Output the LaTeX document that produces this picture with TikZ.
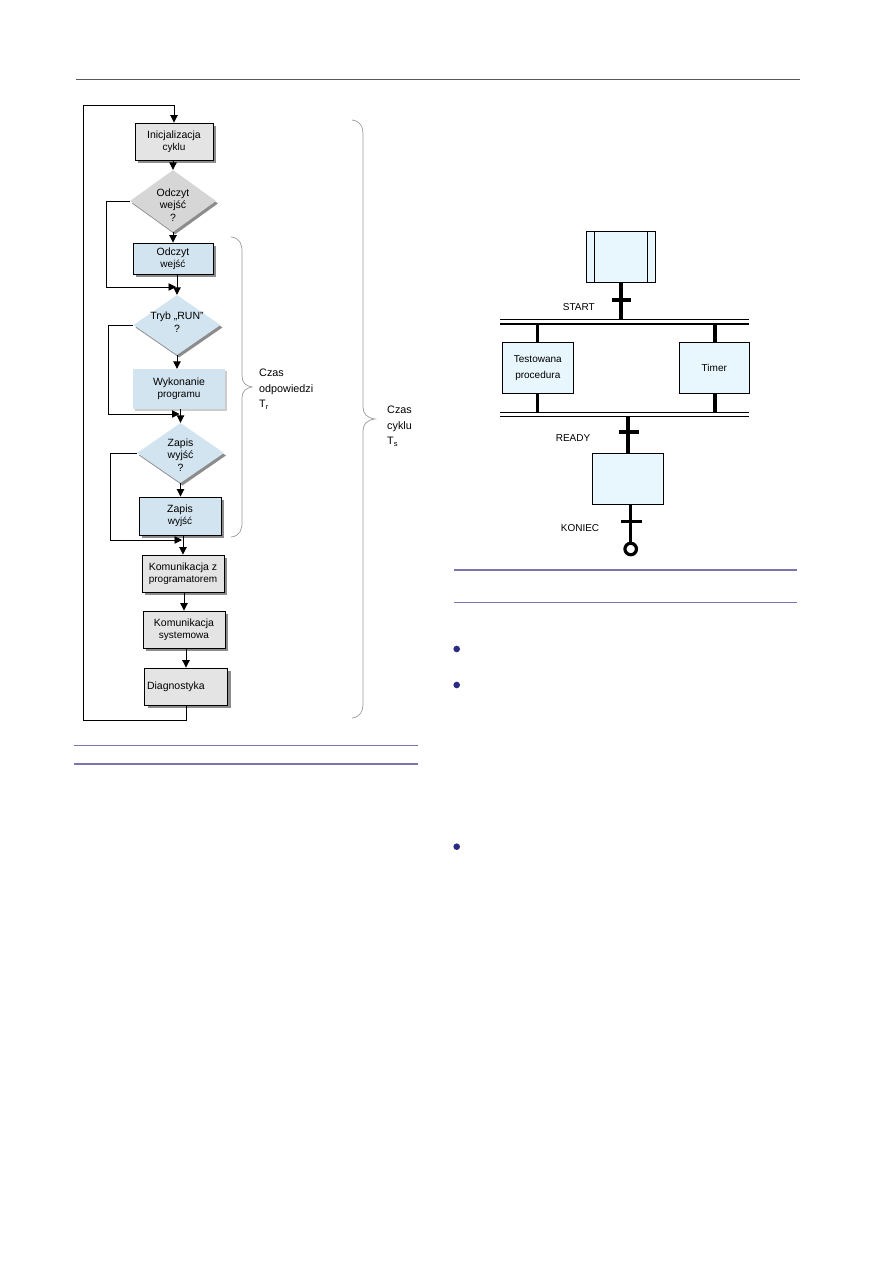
\documentclass[tikz,border=0pt]{standalone}
\usepackage{fontspec}
\setmainfont{Liberation Sans}
\usetikzlibrary{shapes.geometric,arrows.meta,shadows}
\definecolor{boxgray}{HTML}{E4E4E4}
\definecolor{diagray}{HTML}{D6D6D6}
\definecolor{boxblue}{HTML}{D2E4EF}
\definecolor{sfcblue}{HTML}{E8F6FD}
\definecolor{shad}{HTML}{8C8C8C}
\definecolor{purp}{HTML}{7C74B0}
\definecolor{navy}{HTML}{2B2B86}
\definecolor{bracegray}{HTML}{9A9A9A}
\tikzset{
  every node/.style={font=\fontsize{10}{12}\selectfont, align=center, inner sep=0pt},
  fbox/.style={rectangle, draw=black, line width=0.9pt,
     drop shadow={shadow xshift=3pt, shadow yshift=-3pt, fill=shad, opacity=1}},
  graybox/.style={fbox, fill=boxgray},
  bluebox/.style={fbox, fill=boxblue},
  dia/.style={diamond, fill=#1, draw=none,
     drop shadow={shadow xshift=2pt, shadow yshift=-2.5pt, fill=shad, opacity=1}},
  conn/.style={line width=0.9pt, draw=black},
  arr/.style={conn, -{Triangle[length=7.5pt,width=7.5pt]}},
  brc/.style={draw=bracegray, line width=0.7pt},
  sfcbox/.style={rectangle, draw=black, line width=0.9pt, fill=sfcblue},
  thk/.style={line width=3.3pt, draw=black},
  bar/.style={line width=1.2pt, draw=black},
  lbl/.style={font=\fontsize{10.8}{15.5}\selectfont, align=left, anchor=north west},
}
\begin{document}
\begin{tikzpicture}[x=1pt,y=-1pt]
\useasboundingbox (0,0) rectangle (893,1263);
% top rule
\draw[draw=black!65, line width=0.9pt] (76,79) -- (800,79);

% ---------- flowchart ----------
\node[graybox, minimum width=78pt, minimum height=37pt] (init) at (174,141.5)
  {\fontsize{10.5}{11}\selectfont Inicjalizacja\\cyklu};
\node[dia=diagray, minimum width=86pt, minimum height=62pt] (d1) at (173,201) {};
\node[font=\fontsize{10.5}{12.5}\selectfont] (d1t) at (173,205) {Odczyt\\wejść\\?};
\node[bluebox, minimum width=80pt, minimum height=31pt] (odc) at (173,258.5)
  {\fontsize{10.5}{16.5}\selectfont Odczyt\\wejść};
\node[dia=boxblue, minimum width=87pt, minimum height=60pt] (d2) at (177,325) {};
\node[font=\fontsize{10.5}{12.5}\selectfont] (d2t) at (177,322) {Tryb „RUN”\\?};
\node[rectangle, fill=boxblue, minimum width=92pt, minimum height=40pt,
  drop shadow={shadow xshift=1.5pt, shadow yshift=-1.5pt, fill=black!20, opacity=1}] (wyk) at (179,389)
  {\fontsize{10.5}{16}\selectfont Wykonanie\\programu};
\node[dia=boxblue, minimum width=87pt, minimum height=60pt] (d3) at (180.5,453) {};
\node[font=\fontsize{10.5}{12.5}\selectfont] (d3t) at (180.5,455) {Zapis\\wyjść\\?};
\node[bluebox, minimum width=82pt, minimum height=38pt] (zap) at (180,516)
  {\fontsize{10.5}{15}\selectfont Zapis\\wyjść};
\node[graybox, minimum width=82pt, minimum height=37pt] (kom1) at (183,573.5)
  {\fontsize{10.5}{13.5}\selectfont Komunikacja z\\programatorem};
\node[graybox, minimum width=82pt, minimum height=37pt] (kom2) at (184,629.5)
  {\fontsize{10.5}{13.5}\selectfont Komunikacja\\systemowa};
\node[graybox, minimum width=83pt, minimum height=37pt, text width=78pt, align=left,
  font=\fontsize{10.5}{12}\selectfont] (diag) at (186,686.5) {Diagnostyka};

% junctions
\coordinate (j1) at (177,287);
\coordinate (j2) at (180.5,414);
\coordinate (j3) at (183,540);
\coordinate (lt) at (83,105);
\coordinate (lb) at (83,720);

% connectors
\draw[arr] (init.south -| d1.north) -- (d1.north);
\draw[arr] (d1.south) -- (d1.south |- odc.north);
\draw[arr] (odc.south -| d2.north) -- (d2.north);
\draw[arr] (d2.south) -- (d2.south |- wyk.north);
\draw[arr] (wyk.south -| d3.north) -- (d3.north);
\draw[arr] (d3.south) -- (d3.south |- zap.north);
\draw[arr] (zap.south -| kom1.north) -- (kom1.north);
\draw[arr] (kom1.south -| kom2.north) -- (kom2.north);
\draw[arr] (kom2.south -| diag.north) -- (diag.north);
\draw[arr] (d1.west) -- ++(-23,0) |- ([xshift=-1pt]j1);
\draw[arr] (d2.west) -- ++(-25,0) |- ([xshift=-1pt]j2);
\draw[arr] (d3.west) -- ++(-26,0) |- ([xshift=-1pt]j3);
\draw[conn] (diag.south) -- (diag.south |- lb) -- (lb) -- (lt) -- (lt -| init.north);
\draw[arr] (lt -| init.north) -- (init.north);

% braces
\draw[brc] (231,237) .. controls (240,238) and (242,244) .. (242,252) -- (242,376)
  .. controls (242,383) and (246,386) .. (252,387)
  .. controls (246,388) and (242,391) .. (242,398) -- (242,522)
  .. controls (242,530) and (240,536) .. (231,537);
\draw[brc] (352,120) .. controls (361,121) and (363,127) .. (363,136) -- (363,407)
  .. controls (363,414) and (367,418) .. (375,419)
  .. controls (367,420) and (363,424) .. (363,431) -- (363,702)
  .. controls (363,711) and (361,717) .. (352,718);
\node[lbl] (tr) at (259,369) {Czas\\odpowiedzi\\T\textsubscript{r}};
\node[lbl] (ts) at (387,406) {Czas\\cyklu\\T\textsubscript{s}};

% ---------- SFC diagram ----------
\node[sfcbox, minimum width=69pt, minimum height=51pt] (s0) at (621.2,257) {};
\draw[line width=0.9pt] ([xshift=8.6pt]s0.north west) -- ([xshift=8.6pt]s0.south west);
\draw[line width=0.9pt] ([xshift=-8.6pt]s0.north east) -- ([xshift=-8.6pt]s0.south east);
\coordinate (b1l) at (500,321.6);
\coordinate (b1r) at (749,321.6);
\draw[bar] ([yshift=2.3pt]b1l) -- ([yshift=2.3pt]b1r);
\draw[bar] ([yshift=-2.3pt]b1l) -- ([yshift=-2.3pt]b1r);
\draw[thk] (s0.south -| 621,0) -- (621,319.3);
\draw[thk] (611.5,300) -- (631,300);
\node[anchor=east] (start) at (595,307.5) {START};

\node[sfcbox, minimum width=71pt, minimum height=51pt, font=\fontsize{10}{16}\selectfont] (s1) at (537.8,367.8) {Testowana\\procedura};
\node[sfcbox, minimum width=70pt, minimum height=51pt] (s2) at (714.3,367.8) {Timer};
\draw[thk] (537.7,324) -- (s1.north -| 537.7,0);
\draw[thk] (715,324) -- (s2.north -| 715,0);
\coordinate (b2l) at (500,414.6);
\coordinate (b2r) at (749,414.6);
\draw[bar] ([yshift=2.1pt]b2l) -- ([yshift=2.1pt]b2r);
\draw[bar] ([yshift=-2.1pt]b2l) -- ([yshift=-2.1pt]b2r);
\draw[thk] (s1.south -| 537.7,0) -- (537.7,412.5);
\draw[thk] (s2.south -| 715,0) -- (715,412.5);

\node[sfcbox, minimum width=71pt, minimum height=51pt] (s3) at (628,478.8) {};
\draw[thk] (628,416.5) -- (s3.north);
\draw[thk] (619,432) -- (639,432);
\node (ready) at (573,438.5) {READY};

\node[circle, draw=black, line width=3.2pt, minimum size=11.5pt, fill=white] (end) at (630.7,549) {};
\draw[thk] (s3.south -| end) -- (end.north);
\draw[thk] (621,521.7) -- (641.5,521.7);
\node (koniec) at (580,528) {KONIEC};

% ---------- page rules & bullets ----------
\draw[draw=purp, line width=1.1pt] (454,570) -- (797,570);
\draw[draw=purp, line width=1.1pt] (454,602.3) -- (797,602.3);
\draw[draw=purp, line width=1.1pt] (74,745.3) -- (418,745.3);
\draw[draw=purp, line width=2.2pt] (74,764) -- (418,764);
\fill[navy] (456.7,649) circle (3.3);
\fill[navy] (456.7,685) circle (3.3);
\fill[navy] (456.7,846.7) circle (3.3);
\end{tikzpicture}
\end{document}
